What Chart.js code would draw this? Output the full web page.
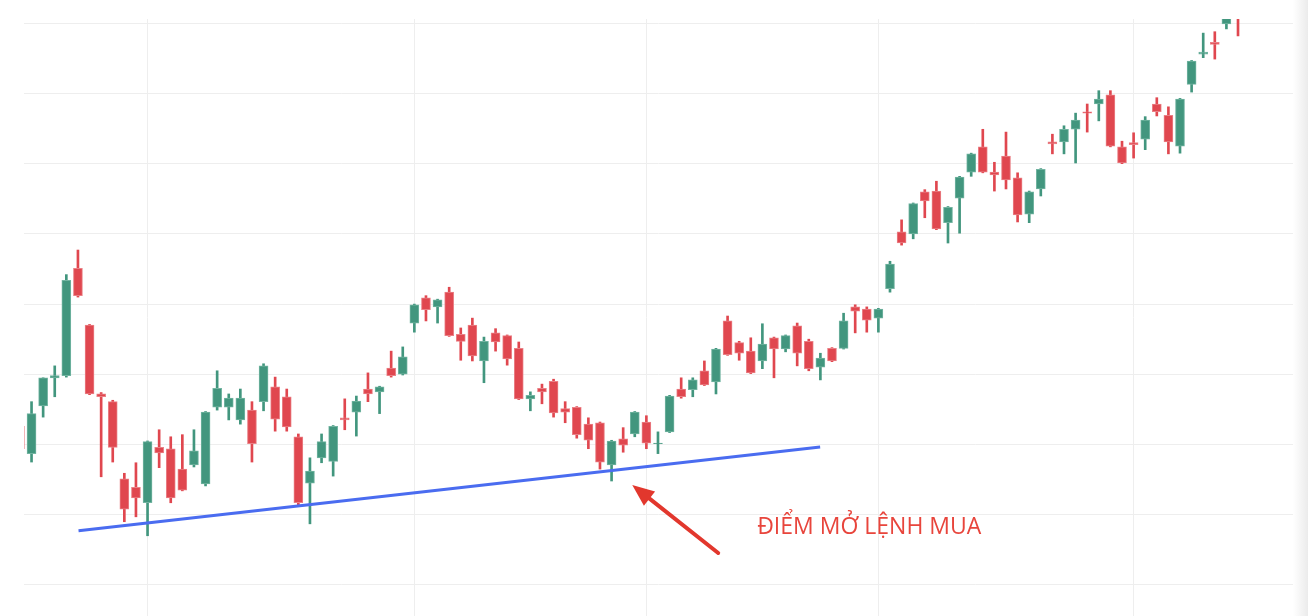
<!DOCTYPE html>
<html>
<head>
<meta charset="utf-8">
<script src="https://cdn.jsdelivr.net/npm/chart.js@4.4.1/dist/chart.umd.min.js"></script>
<style>
  html, body { margin: 0; padding: 0; background: #fff; }
  #wrap { position: relative; width: 1308px; height: 616px; }
  #edge { position: absolute; right: 0; top: 0; width: 15px; height: 616px;
          background: linear-gradient(to right, #fff, #ebebeb); }
</style>
</head>
<body>
<div id="wrap"><canvas id="candles"></canvas><div id="edge"></div></div>
<script>
// candle values, one entry per trading day
const opens  = [122.6,118.7,125.5,129.5,129.8,145.1,137.0,127.2,126.1,115.1,113.9,111.7,119.6,119.4,116.5,117.1,114.4,125.3,125.3,123.5,
                124.9,126.1,128.2,126.8,121.1,114.5,118.1,117.6,123.8,124.6,127.9,127.5,130.9,130.0,137.3,140.9,139.6,141.7,135.7,137.0,
                131.9,135.9,135.5,133.7,126.5,128.0,129.0,125.1,125.3,122.9,123.1,117.1,120.8,121.5,123.2,120.1,121.8,127.9,127.8,130.5,
                128.9,137.6,134.5,133.3,131.9,135.2,133.6,136.9,134.7,131.0,133.7,133.7,139.6,139.3,138.0,142.2,150.3,150.0,156.0,156.1,
                151.6,155.1,158.8,162.4,158.8,161.1,158.0,152.8,156.4,163.1,163.1,164.9,167.4,168.5,169.8,162.4,163.0,163.5,168.5,166.9,
                162.5,171.3,175.6,177.3,179.9,184.0];
const highs  = [122.9,126.1,129.5,131.2,144.2,147.7,137.1,127.4,126.3,115.9,117.4,120.5,122.1,121.1,121.4,122.1,124.7,130.5,127.2,127.9,
                126.1,131.5,129.6,127.9,121.5,118.1,121.5,122.7,126.5,126.9,130.2,128.3,133.3,133.9,140.0,141.2,140.7,142.4,136.6,138.0,
                135.3,136.5,135.6,134.6,127.5,128.6,129.3,126.1,125.4,123.8,123.2,120.6,122.4,124.7,124.1,121.8,127.0,129.5,129.5,131.9,
                133.7,138.3,134.7,135.2,137.2,135.3,135.6,137.3,135.0,133.0,133.8,138.7,139.9,139.6,139.4,146.1,152.0,154.4,156.3,157.5,
                153.9,158.2,161.5,164.9,160.2,164.5,158.7,156.1,159.3,164.2,165.4,167.2,168.5,170.4,170.4,163.2,164.4,166.7,169.4,168.1,
                169.3,174.7,178.6,178.8,182.5,185.0];
const lows   = [118.9,117.5,123.9,126.8,129.6,141.0,127.1,115.4,117.5,109.0,109.7,107.0,116.7,111.7,113.4,116.8,114.1,124.9,123.5,122.9,
                117.5,124.8,121.9,121.9,111.4,108.7,117.4,115.5,122.1,121.2,126.1,124.4,129.6,129.9,136.0,137.6,137.3,135.4,132.0,131.9,
                128.8,133.3,131.3,126.4,124.8,125.8,123.9,123.1,120.9,119.4,116.5,114.8,118.9,121.1,119.4,118.7,121.7,126.6,126.8,128.4,
                127.2,132.7,132.0,130.1,130.8,129.5,133.2,131.2,130.5,129.2,131.8,133.6,135.9,136.0,136.0,141.7,148.4,149.3,152.3,150.6,
                148.7,150.1,158.2,158.7,156.1,156.4,151.7,151.6,155.4,161.4,161.4,160.1,164.5,166.1,162.4,160.0,160.8,162.0,166.8,161.4,
                161.5,170.2,175.1,174.9,179.2,178.2];
const closes = [119.4,124.4,129.5,129.8,143.4,141.2,127.2,126.8,119.6,110.8,112.4,120.4,118.8,112.4,113.5,119.1,124.6,128.0,126.6,126.6,
                120.1,131.2,123.6,122.5,111.7,116.2,120.4,122.6,123.5,126.2,127.2,128.2,129.8,132.5,139.9,139.2,140.6,135.5,134.7,132.6,
                134.7,134.6,132.2,126.5,127.0,127.5,124.5,124.6,121.4,120.6,117.5,120.5,119.9,124.6,120.2,120.2,126.9,126.8,129.2,128.5,
                133.6,132.8,133.0,130.2,134.3,133.6,135.5,133.0,130.8,132.3,131.9,137.6,139.0,137.7,139.3,145.7,148.7,154.3,154.7,150.7,
                153.8,158.1,161.4,158.8,158.4,157.7,152.7,156.0,159.2,162.8,164.9,166.2,167.2,169.2,162.5,160.1,162.7,166.2,167.4,163.1,
                169.2,174.6,175.9,177.0,181.6,181.0];

// first trading day of each month (vertical grid)
const monthStarts = [11, 34, 54, 74, 96];
const priceLines = [100, 110, 120, 130, 140, 150, 160, 170, 180];

// support line and the buy note
const supportLine = [{ x: 5.05, y: 107.7 }, { x: 68.98, y: 119.65 }];
const arrowFrom = { x: 60.19, y: 104.55 };
const arrowTo = { x: 52.78, y: 114.23 };
const noteAt = { x: 63.55, y: 107.25 };
const noteText = 'ĐIỂM MỞ LỆNH MUA';

const UP = '#42967e', DOWN = '#e0474f';
const UP_EDGE = '#72b4a1', DOWN_EDGE = '#ea8086';

const isUp = closes.map((c, i) => c >= opens[i]);
const bodies = opens.map((o, i) => ({ x: i, y: [o, closes[i]] }));
const wicks = lows.map((l, i) => ({ x: i, y: [l, highs[i]] }));

const notePlugin = {
  id: 'note',
  afterDatasetsDraw(chart) {
    const { ctx, scales: { x, y } } = chart;
    const x1 = x.getPixelForValue(arrowFrom.x), y1 = y.getPixelForValue(arrowFrom.y);
    const x2 = x.getPixelForValue(arrowTo.x), y2 = y.getPixelForValue(arrowTo.y);
    const a = Math.atan2(y2 - y1, x2 - x1);
    const cos = Math.cos(a), sin = Math.sin(a);
    ctx.save();
    ctx.strokeStyle = '#e2372d';
    ctx.fillStyle = '#e2372d';
    ctx.lineWidth = 4;
    ctx.lineCap = 'round';
    ctx.beginPath();
    ctx.moveTo(x1, y1);
    ctx.lineTo(x2 - 14 * cos, y2 - 14 * sin);
    ctx.stroke();
    ctx.beginPath();
    ctx.moveTo(x2, y2);
    ctx.lineTo(x2 - 22 * cos + 9 * sin, y2 - 22 * sin - 9 * cos);
    ctx.lineTo(x2 - 22 * cos - 9 * sin, y2 - 22 * sin + 9 * cos);
    ctx.closePath();
    ctx.fill();
    ctx.font = '23px "Open Sans"';
    ctx.fillStyle = '#e8453c';
    ctx.textBaseline = 'alphabetic';
    ctx.fillText(noteText, x.getPixelForValue(noteAt.x), y.getPixelForValue(noteAt.y));
    ctx.restore();
  }
};

new Chart(document.getElementById('candles'), {
  type: 'bar',
  plugins: [notePlugin],
  data: {
    datasets: [
      {
        type: 'line',
        data: supportLine,
        borderColor: '#4a6cf0',
        borderWidth: 3,
        pointRadius: 0,
        order: 0,
      },
      {
        data: bodies,
        grouped: false,
        barThickness: 9,
        backgroundColor: isUp.map(u => u ? UP : DOWN),
        borderColor: isUp.map(u => u ? UP_EDGE : DOWN_EDGE),
        borderWidth: 1,
        borderSkipped: false,
        order: 1,
      },
      {
        data: wicks,
        grouped: false,
        barThickness: 2,
        backgroundColor: isUp.map(u => u ? UP : DOWN),
        order: 2,
      }
    ]
  },
  options: {
    responsive: true,
    maintainAspectRatio: false,
    animation: false,
    layout: { padding: { left: 24, top: 19, right: 15, bottom: 0 } },
    plugins: {
      legend: { display: false },
      tooltip: { enabled: false },
      title: { display: false },
    },
    scales: {
      x: {
        type: 'linear',
        offset: false,
        min: 0.35,
        max: 109.74,
        afterBuildTicks: axis => { axis.ticks = monthStarts.map(v => ({ value: v })); },
        ticks: { display: false },
        grid: { color: '#eeeeee', drawTicks: false, offset: false },
        border: { display: false },
      },
      y: {
        min: 95.57,
        max: 180.61,
        afterBuildTicks: axis => { axis.ticks = priceLines.map(v => ({ value: v })); },
        ticks: { display: false },
        grid: { color: '#eeeeee', drawTicks: false },
        border: { display: false },
      }
    }
  }
})
</script>
</body>
</html>
